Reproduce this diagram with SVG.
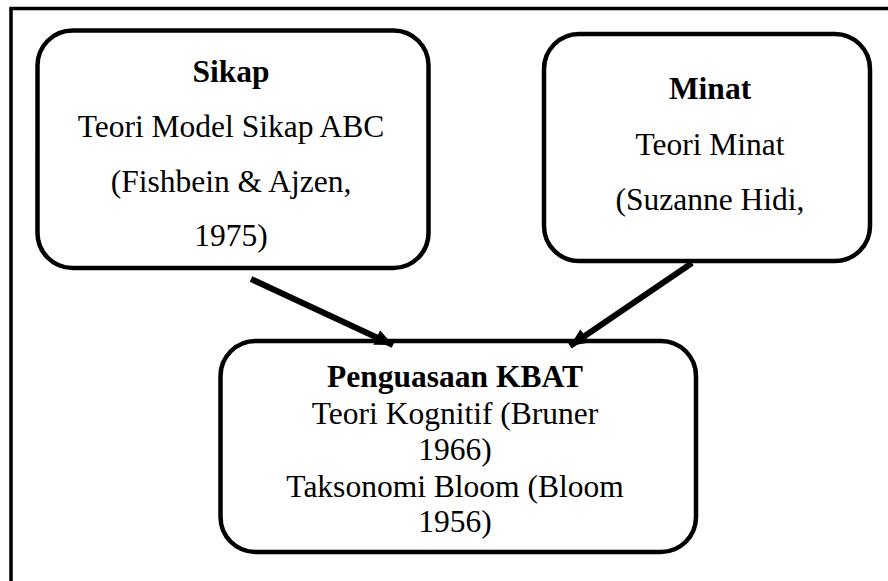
<svg xmlns="http://www.w3.org/2000/svg" width="888" height="581" viewBox="0 0 888 581">
  <style>
    .box { fill: #ffffff; stroke: #000000; stroke-width: 4.5; }
    .t { font-family: "Liberation Serif", "Times New Roman", serif; font-size: 31.5px; fill: #000000; text-anchor: middle; }
    .b { font-weight: bold; }
    .conn { stroke: #000000; stroke-width: 6; fill: none; }
  </style>
  <defs>
    <marker id="ah" markerUnits="userSpaceOnUse" markerWidth="20" markerHeight="18" refX="18" refY="8" orient="auto">
      <path d="M0,0 L18,8 L0,16 Z" fill="#000000"/>
    </marker>
  </defs>
  <rect width="888" height="581" fill="#ffffff"/>
  <path d="M11,581 V8.5 H888" fill="none" stroke="#000000" stroke-width="3.5"/>

  <g id="node-sikap">
    <rect class="box" x="37.5" y="30.5" width="391" height="237.5" rx="35" ry="35"/>
    <text class="t b" x="231" y="82">Sikap</text>
    <text class="t" x="231" y="137">Teori Model Sikap ABC</text>
    <text class="t" x="231" y="192">(Fishbein &amp; Ajzen,</text>
    <text class="t" x="231" y="246">1975)</text>
  </g>

  <g id="node-minat">
    <rect class="box" x="544" y="34" width="326" height="227" rx="35" ry="35"/>
    <text class="t b" x="710" y="99">Minat</text>
    <text class="t" x="710" y="155">Teori Minat</text>
    <text class="t" x="710" y="210">(Suzanne Hidi,</text>
  </g>

  <g id="node-kbat">
    <rect class="box" x="220.5" y="341" width="475.5" height="211" rx="35" ry="35"/>
    <text class="t b" x="455" y="387">Penguasaan KBAT</text>
    <text class="t" x="455" y="424">Teori Kognitif (Bruner</text>
    <text class="t" x="455" y="460">1966)</text>
    <text class="t" x="455" y="497">Taksonomi Bloom (Bloom</text>
    <text class="t" x="455" y="532">1956)</text>
  </g>

  <g id="connectors">
    <line class="conn" x1="251" y1="279" x2="393" y2="345" marker-end="url(#ah)"/>
    <line class="conn" x1="692" y1="263" x2="570" y2="346" marker-end="url(#ah)"/>
  </g>
</svg>
